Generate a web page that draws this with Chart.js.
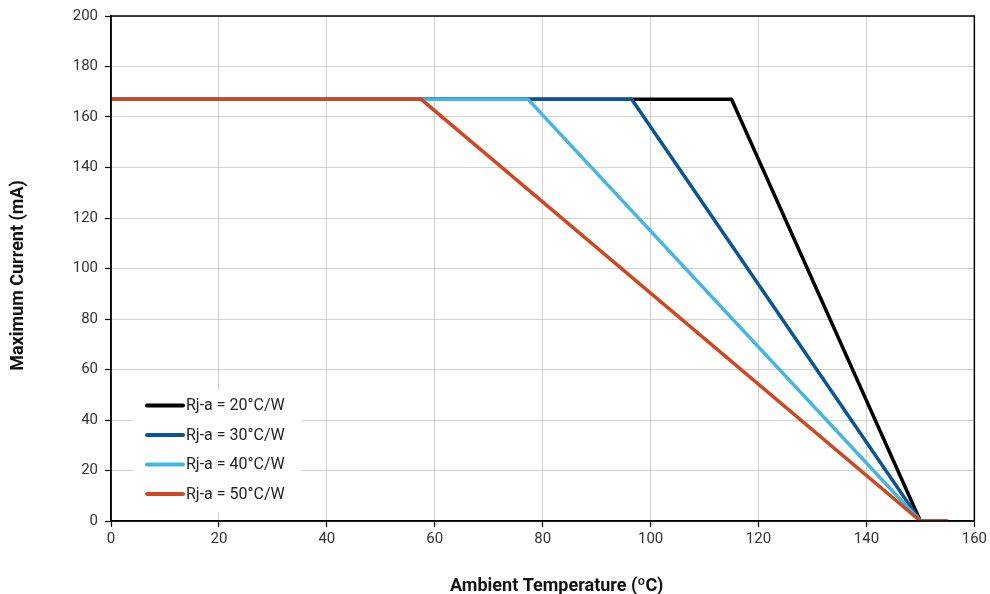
<!DOCTYPE html>
<html><head><meta charset="utf-8">
<script src="https://cdn.jsdelivr.net/npm/chart.js@4.4.1/dist/chart.umd.min.js"></script>
<style>html,body{margin:0;padding:0;background:#fff}#wrap{width:990px;height:594px;position:relative}</style>
</head><body><div id="wrap"><canvas id="c"></canvas></div>
<script>
// ---- data ----
const seriesLabels = ['Rj-a = 20°C/W', 'Rj-a = 30°C/W', 'Rj-a = 40°C/W', 'Rj-a = 50°C/W'];
const temp20 = [0, 115, 150, 155];
const curr20 = [167, 167, 0, 0];
const temp30 = [0, 96.5, 150, 155];
const curr30 = [167, 167, 0, 0];
const temp40 = [0, 77.3, 150, 155];
const curr40 = [167, 167, 0, 0];
const temp50 = [0, 57.5, 150, 155];
const curr50 = [167, 167, 0, 0];
const xTickValues = [0, 20, 40, 60, 80, 100, 120, 140, 160];
const yTickValues = [0, 20, 40, 60, 80, 100, 120, 140, 160, 180, 200];
const xTitle = 'Ambient Temperature (ºC)';
const yTitle = 'Maximum Current (mA)';

// ---- styles ----
const seriesColors = ['#000000', '#0b5595', '#44b5e7', '#d2461f'];
const drawOrder = [3, 2, 1, 0]; // red drawn on top

const temps = [temp20, temp30, temp40, temp50];
const currs = [curr20, curr30, curr40, curr50];

const datasets = seriesLabels.map((lab, i) => ({
  label: lab,
  data: temps[i].map((t, j) => ({x: t, y: currs[i][j]})),
  borderColor: seriesColors[i],
  backgroundColor: seriesColors[i],
  borderWidth: 3.5,
  pointRadius: 0,
  borderJoinStyle: 'round',
  tension: 0,
  order: drawOrder[i]
}));

const frameLegendTitles = {
  id: 'frameLegendTitles',
  afterDatasetsDraw(chart) {
    const ctx = chart.ctx, ca = chart.chartArea;
    ctx.save();
    ctx.strokeStyle = '#000';
    ctx.lineWidth = 1.5;
    ctx.strokeRect(ca.left, ca.top, ca.right - ca.left, ca.bottom - ca.top);
    const bx = ca.left + 22, by = ca.bottom - 131, bw = 169, bh = 122;
    ctx.fillStyle = '#fff';
    ctx.fillRect(bx, by, bw, bh);
    ctx.font = '16px Roboto';
    ctx.textBaseline = 'middle';
    ctx.textAlign = 'left';
    seriesLabels.forEach((lab, i) => {
      const y = ca.bottom - 115.5 + i * 29.5;
      ctx.strokeStyle = seriesColors[i];
      ctx.lineWidth = 4;
      ctx.lineCap = 'round';
      ctx.beginPath();
      ctx.moveTo(bx + 14, y);
      ctx.lineTo(bx + 50, y);
      ctx.stroke();
      ctx.fillStyle = '#222';
      ctx.fillText(lab, bx + 53, y + 0.5);
    });
    // axis titles
    ctx.fillStyle = '#111';
    ctx.font = 'bold 18px Roboto';
    ctx.textAlign = 'center';
    ctx.textBaseline = 'middle';
    ctx.fillText(xTitle, (ca.left + ca.right) / 2 + 14, chart.height - 8);
    ctx.translate(18, (ca.top + ca.bottom) / 2 + 7);
    ctx.rotate(-Math.PI / 2);
    ctx.fillText(yTitle, 0, 0);
    ctx.restore();
  }
};

new Chart(document.getElementById('c'), {
  type: 'line',
  data: { datasets },
  plugins: [frameLegendTitles],
  options: {
    responsive: true,
    maintainAspectRatio: false,
    animation: false,
    layout: { padding: { top: 15, right: 15, left: 0, bottom: 0 } },
    plugins: { legend: { display: false }, tooltip: { enabled: false } },
    scales: {
      x: {
        type: 'linear',
        min: 0, max: 160,
        afterBuildTicks: s => { s.ticks = xTickValues.map(v => ({value: v})); },
        afterFit: s => { s.height = 73; },
        grid: { color: '#d0d0d0', lineWidth: 1, tickColor: '#000', tickLength: 6, tickWidth: 1.2 },
        border: { display: true, color: '#000', width: 1.5 },
        ticks: { color: '#333', font: { family: 'Roboto', size: 15 }, padding: 3, maxRotation: 0 },
        title: { display: false }
      },
      y: {
        type: 'linear',
        min: 0, max: 200,
        afterBuildTicks: s => { s.ticks = yTickValues.map(v => ({value: v})); },
        afterFit: s => { s.width = 111; },
        grid: { color: '#d0d0d0', lineWidth: 1, tickColor: '#000', tickLength: 6, tickWidth: 1.2 },
        border: { display: true, color: '#000', width: 1.5 },
        ticks: { color: '#333', font: { family: 'Roboto', size: 15 }, padding: 7 },
        title: { display: false }
      }
    }
  }
});
</script>
</body></html>
